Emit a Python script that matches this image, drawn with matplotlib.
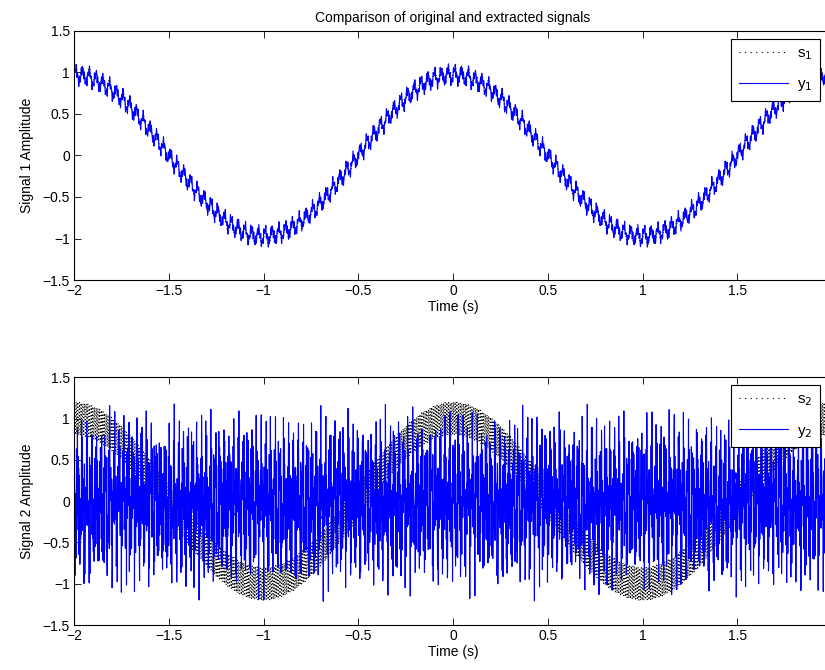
import numpy as np
import matplotlib.pyplot as plt
from matplotlib.ticker import FuncFormatter

plt.rcParams['font.family'] = ['Liberation Sans', 'DejaVu Sans']
plt.rcParams['font.size'] = 10

# time base
t_start, t_stop, fs = -2.0, 2.0, 1000
t = np.arange(t_start, t_stop + 1.0 / fs, 1.0 / fs)

# slow carrier shared by both sources
carrier_freq = 0.5
carrier_amp = 1.0

# signal 1: carrier plus small ripple
ripple1_freq = 28.0
ripple1_amp = 0.08
y1_gain = 0.97
# leakage of the fast source into the first estimate
leak_freqs = [113.0, 187.0]
leak_amps = [0.04, 0.03]

# signal 2: carrier plus fast ripple
ripple2_freq = 113.0
ripple2_amp = 0.2

# extracted signal 2: mix of fast tones
y2_freqs = [41.3, 187.7, 263.9, 331.3]
y2_amps = [0.38, 0.36, 0.3, 0.22]
y2_phases = [0.3, 1.7, 2.9, 4.1]

carrier = carrier_amp * np.cos(2 * np.pi * carrier_freq * t)
s1 = carrier + ripple1_amp * np.sin(2 * np.pi * ripple1_freq * t)
y1 = y1_gain * s1 + sum(a * np.sin(2 * np.pi * f * t) for f, a in zip(leak_freqs, leak_amps))
s2 = carrier + ripple2_amp * np.sin(2 * np.pi * ripple2_freq * t)
y2 = sum(a * np.sin(2 * np.pi * f * t + p) for f, a, p in zip(y2_freqs, y2_amps, y2_phases))

tick_fmt = FuncFormatter(lambda v, _: ('%g' % v).replace('-', '\u2212'))

fig = plt.figure(figsize=(8.25, 6.7), dpi=100)
ax1 = fig.add_axes([0.0897, 0.582, 0.919, 0.372])
ax2 = fig.add_axes([0.0897, 0.067, 0.919, 0.370])

for ax, s, y, k in [(ax1, s1, y1, 1), (ax2, s2, y2, 2)]:
    ax.plot(t, s, color='black', linestyle=(0, (1, 2)), linewidth=0.8, label='s$_%d$' % k)
    ax.plot(t, y, color='blue', linestyle='-', linewidth=0.8, label='y$_%d$' % k)
    ax.set_xlim(-2, 2)
    ax.set_ylim(-1.5, 1.5)
    ax.set_xticks(np.arange(-2, 2.01, 0.5))
    ax.set_yticks(np.arange(-1.5, 1.51, 0.5))
    ax.xaxis.set_major_formatter(tick_fmt)
    ax.yaxis.set_major_formatter(tick_fmt)
    ax.tick_params(direction='in', top=True, right=True, length=5, width=0.6, pad=3)
    for sp in ax.spines.values():
        sp.set_linewidth(0.8)
    ax.set_xlabel('Time (s)', labelpad=1)
    ax.set_ylabel('Signal %d Amplitude' % k, labelpad=6)
    leg = ax.legend(loc='upper right', bbox_to_anchor=(0.984, 0.968), borderaxespad=0,
                    fancybox=False, framealpha=1, edgecolor='black', handlelength=3.2,
                    borderpad=0.5, labelspacing=1.0, handletextpad=0.6, fontsize=11)
    leg.get_frame().set_linewidth(0.8)
    leg.legend_handles[0].set_linestyle((0, (1, 4)))

ax1.set_title('Comparison of original and extracted signals', fontsize=10, pad=6)

fig.savefig('out.png', dpi=100)
